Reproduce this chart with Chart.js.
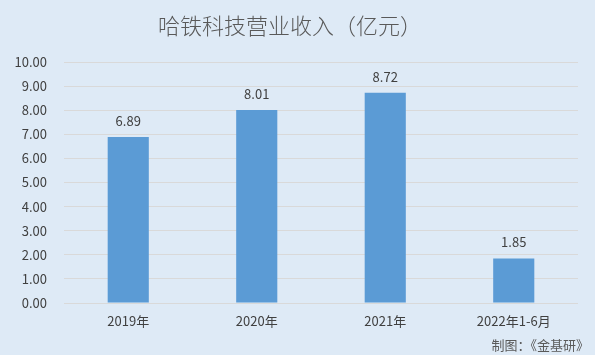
<!DOCTYPE html>
<html><head><meta charset="utf-8">
<script src="https://cdn.jsdelivr.net/npm/chart.js@4"></script>
<style>html,body{margin:0;padding:0;background:#DEEAF6;}#wrap{width:595px;height:355px;}</style>
</head><body><div id="wrap"><canvas id="c" width="595" height="355"></canvas></div>
<script>
const categories = ["2019年", "2020年", "2021年", "2022年1-6月"];
const revenue = [6.89, 8.01, 8.72, 1.85];
const yTicks = [0, 1, 2, 3, 4, 5, 6, 7, 8, 9, 10];
const titleText = "哈铁科技营业收入（亿元）";
const sourceText = "制图：《金基研》";

const FONT = '"Noto Sans CJK SC", "Noto Sans", sans-serif';

const decor = {
  id: 'decor',
  beforeDraw(chart) {
    const ctx = chart.ctx;
    ctx.save();
    ctx.fillStyle = '#DEEAF6';
    ctx.fillRect(0, 0, chart.width, chart.height);
    ctx.restore();
  },
  afterDatasetsDraw(chart) {
    const ctx = chart.ctx;
    ctx.save();
    ctx.font = '13px ' + FONT;
    ctx.fillStyle = '#404040';
    ctx.textAlign = 'center';
    ctx.textBaseline = 'middle';
    const meta = chart.getDatasetMeta(0);
    meta.data.forEach((bar, i) => {
      ctx.fillText(revenue[i].toFixed(2), bar.x, bar.y - 16);
    });
    ctx.font = '300 22px ' + FONT;
    ctx.fillStyle = '#595959';
    ctx.fillText(titleText, 290, 26);
    ctx.font = '13px ' + FONT;
    ctx.textAlign = 'right';
    ctx.fillText(sourceText, 589, 345);
    ctx.restore();
  }
};

new Chart(document.getElementById('c'), {
  type: 'bar',
  data: {
    labels: categories,
    datasets: [{
      data: revenue,
      backgroundColor: '#5B9BD5',
      barPercentage: 0.64,
      categoryPercentage: 0.5
    }]
  },
  options: {
    responsive: false,
    animation: false,
    devicePixelRatio: 1,
    layout: { padding: { top: 62, right: 17, left: 0, bottom: 0 } },
    plugins: { legend: { display: false }, title: { display: false }, tooltip: { enabled: false } },
    scales: {
      x: {
        grid: { display: false, drawTicks: false },
        border: { display: false },
        ticks: { font: { family: FONT, size: 13 }, color: '#404040', padding: 10, maxRotation: 0 },
        afterFit(s) { s.height = 52; }
      },
      y: {
        min: 0, max: 10,
        afterBuildTicks(s) { s.ticks = yTicks.map(v => ({ value: v })); },
        grid: { color: '#D9D9D9', drawTicks: false, lineWidth: 1 },
        border: { display: false },
        ticks: { font: { family: FONT, size: 13 }, color: '#404040', padding: 17,
          callback: v => Number(v).toFixed(2) },
        afterFit(s) { s.width = 64; }
      }
    }
  },
  plugins: [decor]
});
</script></body></html>
